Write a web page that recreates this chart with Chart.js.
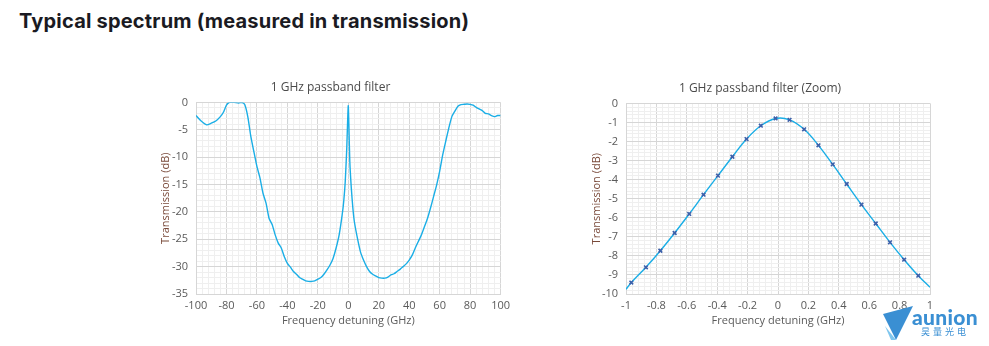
<!DOCTYPE html>
<html>
<head>
<meta charset="utf-8">
<script src="https://cdn.jsdelivr.net/npm/chart.js@4"></script>
<style>
  html, body { margin: 0; padding: 0; background: #fff; }
  body { width: 989px; height: 346px; position: relative; overflow: hidden; font-family: "Open Sans", sans-serif; }
  #title { position: absolute; left: 19px; top: 9px; font-family: Inter, "Open Sans", sans-serif; font-weight: 700; font-size: 20px; color: #1a1a22; letter-spacing: 0.2px; }
  .box { position: absolute; }
  #logoText { position: absolute; left: 912px; top: 304px; font-family: Lato, "Open Sans", sans-serif; font-weight: 900; font-size: 21px; color: #3a8fd3; letter-spacing: 0.3px; }
  #logoCn { position: absolute; left: 921px; top: 325px; font-family: "Noto Sans CJK SC", sans-serif; font-size: 9px; color: #3a8fd3; letter-spacing: 3px; }
</style>
</head>
<body>
<div id="title">Typical spectrum (measured in transmission)</div>
<div class="box" style="left:159px; top:78px; width:356px; height:249px;"><canvas id="c1"></canvas></div>
<div class="box" style="left:590px; top:79px; width:355px; height:248px;"><canvas id="c2"></canvas></div>
<svg viewBox="0 0 32 36" style="position:absolute; left:882px; top:306px; width:32px; height:36px;">
  <polygon points="1,8 31,0 14,34" fill="#3a8fd3"/>
  <polygon points="3,20 14,34 9,34" fill="#7fc6ee"/>
</svg>
<div id="logoText">aunion</div>
<div id="logoCn">昊量光电</div>
<script>
// ---- Data: left chart (full spectrum) ----
const wideFreq = [-100,-97,-93,-90,-87,-84,-82,-80,-78,-75,-72,-70,-68,-66,-64,-62,-60,-58,-56,-54,-52,-50,-48,-46,-44,-42,-40,-38,-36,-34,-32,-30,-28,-26,-24,-22,-20,-18,-16,-14,-12,-10,-8,-6,-4,-3,-2,-1,-0.5,0,0.5,1,2,3,4,6,8,10,12,14,16,18,20,22,24,26,28,30,32,34,36,38,40,42,44,46,48,50,52,54,56,58,60,62,64,66,68,70,72,74,76,78,80,82,84,86,88,90,92,94,96,98,100];
const wideTrans = [-2.4,-3.3,-4.1,-3.8,-3.4,-2.6,-1.8,-0.5,0,0,-0.1,0,-0.4,-2.6,-6.2,-9,-11.7,-13.8,-16.6,-18.4,-21.2,-22.3,-24.2,-25.7,-26.6,-28.2,-29.4,-30.1,-30.9,-31.4,-32,-32.3,-32.6,-32.7,-32.7,-32.6,-32.3,-32,-31.4,-30.6,-29.7,-28.5,-26.6,-24.2,-20.5,-18.1,-14.5,-8.4,-4,-0.6,-5.3,-10.8,-15.7,-19.3,-21.8,-24.8,-27.3,-28.8,-30,-30.9,-31.4,-31.7,-32,-32.1,-32.1,-31.9,-31.5,-31.3,-30.9,-30.5,-30,-29.5,-28.8,-27.9,-26.6,-25.4,-24.2,-22.7,-21.2,-19.3,-17.2,-15.1,-12.6,-9.6,-7.1,-4.7,-2.6,-1.6,-0.7,-0.4,-0.35,-0.3,-0.35,-0.5,-0.9,-1.2,-1.5,-2,-2.1,-2.4,-2.6,-2.4,-2.4];

// ---- Data: right chart (zoom) ----
const zoomFreq = [-1,-0.965,-0.869,-0.774,-0.68,-0.584,-0.49,-0.395,-0.30,-0.207,-0.113,-0.016,0.076,0.172,0.266,0.36,0.452,0.549,0.643,0.737,0.83,0.923,1];
const zoomTrans = [-9.75,-9.4,-8.6,-7.73,-6.8,-5.8,-4.79,-3.79,-2.8,-1.87,-1.17,-0.79,-0.86,-1.36,-2.2,-3.2,-4.23,-5.31,-6.3,-7.29,-8.2,-9.04,-9.65];
const zoomMarker = [false,true,true,true,true,true,true,true,true,true,true,true,true,true,true,true,true,true,true,true,true,true,false];

// ---- Tick labels ----
const wideXTicks = [-100,-80,-60,-40,-20,0,20,40,60,80,100];
const wideYTicks = [0,-5,-10,-15,-20,-25,-30,-35];
const zoomXTicks = [-1,-0.8,-0.6,-0.4,-0.2,0,0.2,0.4,0.6,0.8,1];
const zoomYTicks = [0,-1,-2,-3,-4,-5,-6,-7,-8,-9,-10];

const LINE = '#1aaee6', MARK = '#3d60aa', MAJOR = '#d6d6d6', MINOR = '#efefef', TXT = '#5a5a5a';
const FONT = '"Open Sans", sans-serif';

function isMajor(v, list) { return list.some(t => Math.abs(t - v) < 1e-6); }
function labelFor(v, list) {
  const t = list.find(t => Math.abs(t - v) < 1e-6);
  return t === undefined ? '' : String(t);
}

function makeChart(id, cfg) {
  const xs = cfg.x, ys = cfg.y;
  return new Chart(document.getElementById(id), {
    type: 'line',
    data: {
      datasets: [{
        data: xs.map((x, i) => ({ x: x, y: ys[i] })),
        borderColor: LINE,
        borderWidth: 1.4,
        tension: cfg.tension,
        pointRadius: cfg.marker ? (c => cfg.marker[c.dataIndex] ? 2.6 : 0) : 0,
        pointStyle: 'crossRot',
        pointBorderColor: MARK,
        pointBorderWidth: 1.6,
        pointBackgroundColor: MARK,
        fill: false
      }]
    },
    options: {
      responsive: true,
      maintainAspectRatio: false,
      animation: false,
      layout: { padding: { left: 0, right: cfg.padRight, top: 0, bottom: 0 } },
      plugins: {
        legend: { display: false },
        tooltip: { enabled: false },
        title: { display: true, text: cfg.title, color: '#4a4a4a', font: { family: FONT, size: 12, weight: 'normal' }, padding: { top: 2, bottom: 8 } }
      },
      scales: {
        x: {
          type: 'linear', min: cfg.xmin, max: cfg.xmax,
          afterFit: s => { s.height = 33; },
          ticks: { stepSize: cfg.xstep, autoSkip: false, maxRotation: 0, padding: 5, color: TXT, font: { family: FONT, size: 11 }, callback: v => labelFor(v, cfg.xt) },
          grid: { drawTicks: false, color: c => isMajor(c.tick.value, cfg.xt) ? MAJOR : MINOR, lineWidth: 1 },
          border: { color: MAJOR },
          title: { display: true, text: 'Frequency detuning (GHz)', color: TXT, font: { family: FONT, size: 11 }, padding: 0 }
        },
        y: {
          type: 'linear', min: cfg.ymin, max: 0,
          afterFit: s => { s.width = cfg.yw; },
          ticks: { stepSize: cfg.ystep, autoSkip: false, padding: 8, color: TXT, font: { family: FONT, size: 11 }, callback: v => labelFor(v, cfg.yt) },
          grid: { drawTicks: false, color: c => isMajor(c.tick.value, cfg.yt) ? MAJOR : MINOR, lineWidth: 1 },
          border: { color: MAJOR },
          title: { display: true, text: 'Transmission (dB)', color: '#7a4a3a', font: { family: FONT, size: 11 }, padding: 0 }
        }
      }
    }
  });
}

makeChart('c1', { x: wideFreq, y: wideTrans, tension: 0.2, title: '1 GHz passband filter',
  xmin: -100, xmax: 100, xstep: 4, xt: wideXTicks, ymin: -35, ystep: 1, yt: wideYTicks, yw: 37, padRight: 13 });
makeChart('c2', { x: zoomFreq, y: zoomTrans, tension: 0.4, marker: zoomMarker, title: '1 GHz passband filter (Zoom)',
  xmin: -1, xmax: 1, xstep: 0.04, xt: zoomXTicks, ymin: -10, ystep: 0.2, yt: zoomYTicks, yw: 36, padRight: 15 });
</script>
</body>
</html>
